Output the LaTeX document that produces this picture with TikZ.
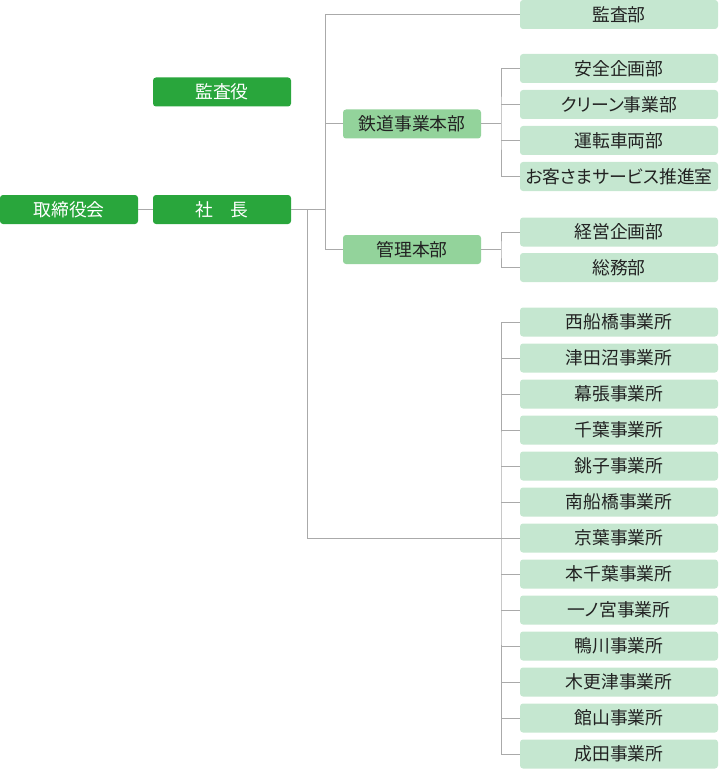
\documentclass[tikz,border=0pt]{standalone}
\usepackage{fontspec}
\setmainfont{Noto Sans CJK JP}
\newfontfamily\paltfont[RawFeature=+palt]{Noto Sans CJK JP}
\definecolor{dkgreen}{HTML}{29A63C}
\definecolor{mdgreen}{HTML}{93D39B}
\definecolor{ltgreen}{HTML}{C5E7D0}
\definecolor{linegray}{HTML}{AAAAAA}
\definecolor{txt}{HTML}{222222}
\tikzset{
  box/.style={rounded corners=3pt, minimum height=29pt, inner sep=0pt, font=\fontsize{17.8}{20}\selectfont},
  dkbox/.style={box, fill=dkgreen, text=white, minimum width=138pt},
  mdbox/.style={box, fill=mdgreen, text=txt, minimum width=138pt},
  ltbox/.style={box, fill=ltgreen, text=txt, minimum width=198pt},
  kanabox/.style={ltbox, font=\paltfont\fontsize{17.8}{20}\selectfont},
  conn/.style={draw=linegray, line width=1pt}
}
\begin{document}
\begin{tikzpicture}[x=1pt,y=-1pt]
\useasboundingbox (0,0) rectangle (718,770);
% top level
\node[dkbox] (tori) at (69,209.5) {取締役会};
\node[dkbox] (shacho) at (222,209.5) {社　長};
\node[dkbox] (kansayaku) at (222,92) {監査役};
% headquarters
\node[mdbox] (tetsudo) at (412,124) {鉄道事業本部};
\node[mdbox] (kanri) at (412,249.5) {管理本部};
% departments
\node[ltbox] (kansabu) at (619,14.5) {監査部};
\node[ltbox] (anzen) at (619,68.5) {安全企画部};
\node[kanabox] (clean) at (619,104.5) {クリーン事業部};
\node[ltbox] (unten) at (619,140.5) {運転車両部};
\node[kanabox] (okyaku) at (619,176.5) {お客さまサービス推進室};
\node[ltbox] (keiei) at (619,232) {経営企画部};
\node[ltbox] (somu) at (619,267.5) {総務部};
% offices
\node[ltbox] (o1) at (619,322) {西船橋事業所};
\node[ltbox] (o2) at (619,358) {津田沼事業所};
\node[ltbox] (o3) at (619,394) {幕張事業所};
\node[ltbox] (o4) at (619,430) {千葉事業所};
\node[ltbox] (o5) at (619,466) {銚子事業所};
\node[ltbox] (o6) at (619,502) {南船橋事業所};
\node[ltbox] (o7) at (619,538) {京葉事業所};
\node[ltbox] (o8) at (619,574) {本千葉事業所};
\node[kanabox] (o9) at (619,610) {一ノ宮事業所};
\node[ltbox] (o10) at (619,646) {鴨川事業所};
\node[ltbox] (o11) at (619,682) {木更津事業所};
\node[ltbox] (o12) at (619,718) {館山事業所};
\node[ltbox] (o13) at (619,754) {成田事業所};
% junction coordinates
\coordinate (b1) at (325.5,249.5);
\coordinate (b2) at (307.5,538);
\coordinate (b3) at (501,124);
\coordinate (b4) at (501,249.5);
\coordinate (b5) at (501,538);
% connectors
\draw[conn] (tori.east) -- (shacho.west);
\draw[conn] (shacho.east) -- (shacho.east -| b1);
\draw[conn] (kansabu.west) -| (b1) -- (kanri.west);
\draw[conn] (b1 |- tetsudo.west) -- (tetsudo.west);
\draw[conn] (shacho.east -| b2) -- (b2) -- (o7.west);
\draw[conn] (tetsudo.east) -- (b3);
\draw[conn] (anzen.west) -| (b3) |- (okyaku.west);
\draw[conn] (clean.west) -- (clean.west -| b3);
\draw[conn] (unten.west) -- (unten.west -| b3);
\draw[conn] (kanri.east) -- (b4);
\draw[conn] (keiei.west) -| (b4) |- (somu.west);
\draw[conn] (o1.west) -| (b5) |- (o13.west);
\foreach \i in {2,3,4,5,6,8,9,10,11,12} {
  \draw[conn] (o\i.west) -- (o\i.west -| b5);
}
\end{tikzpicture}
\end{document}
